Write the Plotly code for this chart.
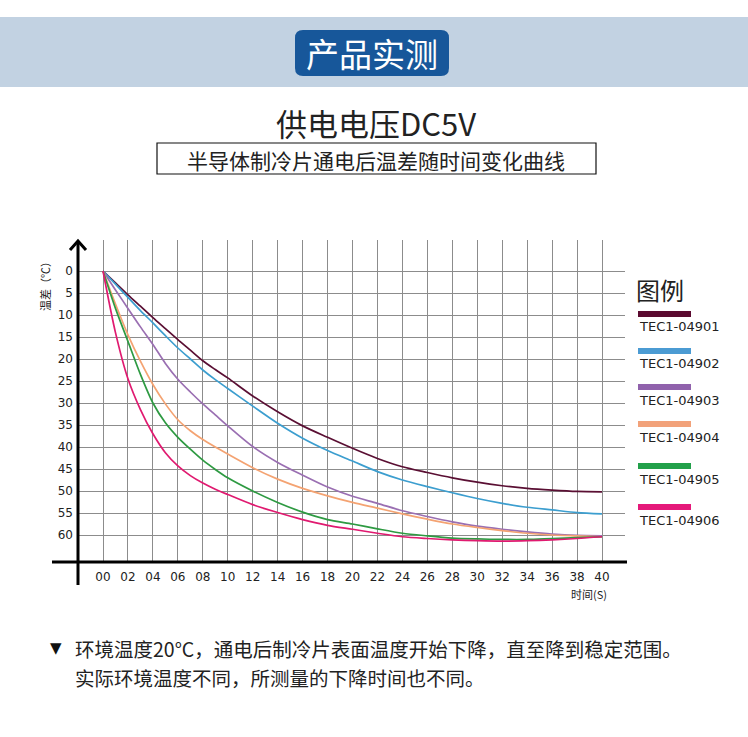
import plotly.graph_objects as go

# 时间 (s)：前10秒每秒读一个点，之后每2秒
t = list(range(0, 10)) + list(range(10, 41, 2))
tick_vals = list(range(0, 41, 2))
tick_text = ["%02d" % v for v in tick_vals]
y_ticks = list(range(0, 61, 5))

names = ["TEC1-04901", "TEC1-04902", "TEC1-04903", "TEC1-04904", "TEC1-04905", "TEC1-04906"]
line_colors = ["#5a0f33", "#3c9ecf", "#9a6fb2", "#f4a372", "#2e9a42", "#e01a70"]
legend_colors = ["#5b0a30", "#4b9bd3", "#9062ac", "#f2a27a", "#22a04a", "#e5197a"]

# 温差 读图估计
tec01 = [0, 2.7, 5.4, 8.0, 10.6, 13.1, 15.6, 18.0, 20.4, 22.4, 24.3,
         28.4, 32.0, 35.2, 37.8, 40.3, 42.6, 44.5, 45.8, 47.0, 48.0, 48.8, 49.4, 49.8, 50.1, 50.2]
tec02 = [0, 3.0, 6.0, 9.0, 11.8, 14.7, 17.5, 20.0, 22.5, 24.7, 26.7,
         30.7, 34.6, 38.0, 40.8, 43.2, 45.6, 47.5, 49.0, 50.4, 51.7, 52.8, 53.7, 54.3, 54.9, 55.2]
tec03 = [0, 4.3, 8.5, 12.7, 16.7, 21.0, 24.6, 27.5, 30.2, 32.7, 35.2,
         39.9, 43.5, 46.4, 49.1, 51.2, 52.8, 54.5, 55.8, 57.0, 58.0, 58.7, 59.3, 59.8, 60.1, 60.2]
tec04 = [0, 7.5, 14.5, 20.5, 25.8, 30.2, 33.8, 36.3, 38.3, 40.0, 41.6,
         44.7, 47.3, 49.4, 51.1, 52.6, 53.9, 55.2, 56.4, 57.5, 58.3, 59.0, 59.6, 60.0, 60.2, 60.4]
tec05 = [0, 8.5, 16.0, 23.5, 30.0, 34.5, 37.8, 40.5, 43.0, 45.1, 47.0,
         50.0, 52.6, 54.8, 56.5, 57.5, 58.6, 59.6, 60.2, 60.7, 60.9, 61.0, 61.0, 60.8, 60.6, 60.4]
tec06 = [0, 14.0, 24.5, 31.5, 37.0, 41.3, 44.3, 46.5, 48.2, 49.6, 50.8,
         53.1, 54.9, 56.5, 57.8, 58.7, 59.6, 60.4, 60.8, 61.1, 61.3, 61.4, 61.3, 61.1, 60.8, 60.4]
series = [tec01, tec02, tec03, tec04, tec05, tec06]

W, H = 748, 737


def px(x):
    return x / W


def py(y):
    return 1 - y / H


# 绘图区像素位置
X0, X1 = 78, 625
YT, YB = 240, 562
T0_PX, T_SCALE = 103, 499 / 40
V0_PX, V_SCALE = 271, 4.4

fig = go.Figure()
for name, vals, c in zip(names, series, line_colors):
    fig.add_trace(go.Scatter(x=t, y=vals, name=name, mode="lines",
                             line=dict(color=c, width=1.7, shape="spline", smoothing=0.8)))

shapes = []
# 顶部色带和按钮
shapes.append(dict(type="rect", xref="paper", yref="paper", x0=0, x1=1, y0=py(87), y1=py(17),
                   fillcolor="#c2d2e2", line=dict(width=0), layer="below"))
bx0, bx1, by0, by1, r = 295, 449, 30, 76, 8
path = (f"M {px(bx0 + r)} {py(by0)} L {px(bx1 - r)} {py(by0)} Q {px(bx1)} {py(by0)} {px(bx1)} {py(by0 + r)} "
        f"L {px(bx1)} {py(by1 - r)} Q {px(bx1)} {py(by1)} {px(bx1 - r)} {py(by1)} "
        f"L {px(bx0 + r)} {py(by1)} Q {px(bx0)} {py(by1)} {px(bx0)} {py(by1 - r)} "
        f"L {px(bx0)} {py(by0 + r)} Q {px(bx0)} {py(by0)} {px(bx0 + r)} {py(by0)} Z")
shapes.append(dict(type="path", xref="paper", yref="paper", path=path,
                   fillcolor="#17579a", line=dict(width=0)))
# 副标题框
shapes.append(dict(type="rect", xref="paper", yref="paper", x0=px(157), x1=px(596), y0=py(174), y1=py(143),
                   line=dict(color="#111", width=1.2)))
# 坐标轴
shapes.append(dict(type="line", xref="paper", yref="paper", x0=px(52), x1=px(627), y0=py(YB), y1=py(YB),
                   line=dict(color="#000", width=3)))
shapes.append(dict(type="line", xref="paper", yref="paper", x0=px(X0), x1=px(X0), y0=py(585), y1=py(241),
                   line=dict(color="#000", width=3)))
shapes.append(dict(type="path", xref="paper", yref="paper",
                   path=f"M {px(70)} {py(250)} L {px(X0)} {py(241)} L {px(86)} {py(250)}",
                   line=dict(color="#000", width=3)))
# 图例
bar_y = [314, 351, 387, 424, 466, 507]
lab_y = [326, 363, 400, 437, 479, 520]
for yy, c in zip(bar_y, legend_colors):
    shapes.append(dict(type="rect", xref="paper", yref="paper", x0=px(638), x1=px(691),
                       y0=py(yy + 3), y1=py(yy - 3), fillcolor=c, line=dict(width=0)))

ann = []
cjk = "Noto Sans CJK SC"
ann.append(dict(x=px(372), y=py(53), text="产品实测", font=dict(family=cjk, size=33, color="#fff")))
ann.append(dict(x=px(376), y=py(122), text="供电电压DC5V", font=dict(family=cjk, size=31, color="#222")))
ann.append(dict(x=px(376), y=py(160.5), text="半导体制冷片通电后温差随时间变化曲线",
                font=dict(family=cjk, size=21, color="#222")))
ann.append(dict(x=px(660), y=py(289), text="图例", font=dict(family=cjk, size=24, color="#222")))
for yy, n in zip(lab_y, names):
    ann.append(dict(x=px(637), y=py(yy), text=n, xanchor="left", font=dict(family="DejaVu Sans", size=13, color="#222")))
ann.append(dict(x=px(45), y=py(284), text="温差（℃）", textangle=-90, font=dict(family=cjk, size=11, color="#222")))
ann.append(dict(x=px(589), y=py(594), text="时间(S)", font=dict(family=cjk, size=11, color="#222")))
ann.append(dict(x=px(56), y=py(648), text="▼", font=dict(family="DejaVu Sans", size=15, color="#111")))
ann.append(dict(x=px(73), y=py(648.5), xanchor="left",
                text="环境温度20°C，通电后制冷片表面温度开始下降，直至降到稳定范围。",
                font=dict(family=cjk, size=19.5, color="#222")))
ann.append(dict(x=px(73), y=py(677), xanchor="left",
                text="实际环境温度不同，所测量的下降时间也不同。",
                font=dict(family=cjk, size=19.5, color="#222")))
for a in ann:
    a.setdefault("xref", "paper")
    a.setdefault("yref", "paper")
    a.setdefault("showarrow", False)
    a.setdefault("xanchor", "center")
    a.setdefault("yanchor", "middle")

tick_font = dict(family="DejaVu Sans", size=12, color="#222")
fig.update_layout(
    width=W, height=H, margin=dict(l=0, r=0, t=0, b=0),
    paper_bgcolor="#fff", plot_bgcolor="#fff", showlegend=False,
    shapes=shapes, annotations=ann,
    xaxis=dict(domain=[px(X0), px(X1)],
               range=[(X0 - T0_PX) / T_SCALE, (X1 - T0_PX) / T_SCALE],
               tickvals=tick_vals, ticktext=tick_text, showgrid=True, gridcolor="#8c8c8c", gridwidth=1,
               zeroline=False, showline=False, ticks="", ticklabelstandoff=6, tickfont=tick_font),
    yaxis=dict(domain=[py(YB), py(YT)],
               range=[(YB - V0_PX) / V_SCALE, (YT - V0_PX) / V_SCALE],
               tickvals=y_ticks, showgrid=True, gridcolor="#8c8c8c", gridwidth=1,
               zeroline=False, showline=False, ticks="", ticklabelstandoff=4, tickfont=tick_font),
)

fig.write_html("out.html", config={"displayModeBar": False},
               post_script="document.body.style.margin='0';")
